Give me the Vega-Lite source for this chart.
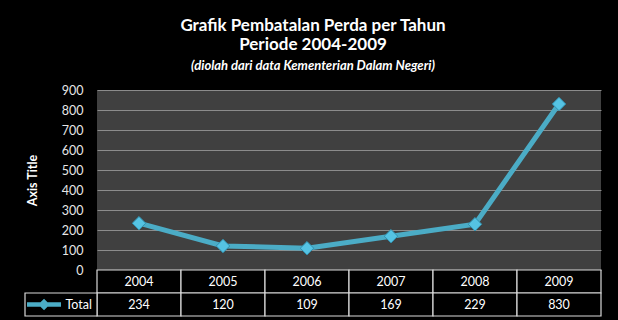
{
  "$schema": "https://vega.github.io/schema/vega-lite/v6.json",
  "background": "black",
  "padding": {"left": 24, "top": 17, "right": 17, "bottom": 4},
  "bounds": "flush",
  "spacing": 0,
  "config": {
    "font": "Lato",
    "view": {"stroke": null},
    "concat": {"spacing": 0}
  },
  "title": {
    "text": ["Grafik Pembatalan Perda per Tahun", "Periode 2004-2009"],
    "subtitle": "(diolah dari data Kementerian Dalam Negeri)",
    "color": "white",
    "font": "Lato",
    "fontSize": 17,
    "fontWeight": "bold",
    "lineHeight": 19,
    "subtitleColor": "white",
    "subtitleFont": "Lato",
    "subtitleFontSize": 13,
    "subtitleFontStyle": "italic",
    "subtitleFontWeight": "bold",
    "subtitlePadding": 6,
    "anchor": "middle",
    "frame": "bounds",
    "offset": 10
  },
  "datasets": {
    "perda": [
      {"year": "2004", "total": 234},
      {"year": "2005", "total": 120},
      {"year": "2006", "total": 109},
      {"year": "2007", "total": 169},
      {"year": "2008", "total": 229},
      {"year": "2009", "total": 830}
    ],
    "legendrow": [{"row": "Total", "label": "Total"}]
  },
  "vconcat": [
    {
      "width": 504,
      "height": 180,
      "data": {"name": "perda"},
      "view": {"fill": "#404040", "stroke": null},
      "encoding": {
        "x": {"field": "year", "type": "ordinal", "scale": {"type": "point", "padding": 0.5}, "axis": null},
        "y": {
          "field": "total",
          "type": "quantitative",
          "scale": {"domain": [0, 900]},
          "axis": {
            "title": "Axis Title",
            "values": [0, 100, 200, 300, 400, 500, 600, 700, 800, 900],
            "grid": true,
            "gridColor": "#8c8c8c",
            "gridWidth": 1,
            "domain": false,
            "ticks": false,
            "labelColor": "#e6e6e6",
            "labelFontSize": 12.5,
            "labelPadding": 14,
            "titleColor": "white",
            "titleFontSize": 12.5,
            "titleFontWeight": "bold",
            "titlePadding": 22,
            "minExtent": 36,
            "maxExtent": 36
          }
        }
      },
      "mark": {
        "type": "line",
        "color": "#4bacc6",
        "strokeWidth": 5,
        "point": {"shape": "diamond", "size": 180, "filled": true, "fill": "#55c3e3", "stroke": "#2f8fae", "strokeWidth": 1, "opacity": 1}
      }
    },
    {
      "width": 504,
      "height": 46,
      "resolve": {"scale": {"x": "independent"}},
      "layer": [
        {
          "data": {"name": "perda"},
          "mark": {"type": "rect", "fill": "black", "stroke": "#d9d9d9", "strokeWidth": 1.2},
          "encoding": {
            "x": {"field": "year", "type": "ordinal", "scale": {"type": "band", "paddingInner": 0, "paddingOuter": 0}, "axis": null},
            "y": {"datum": "Year", "type": "nominal", "scale": {"domain": ["Year", "Total"], "paddingInner": 0, "paddingOuter": 0}, "axis": null}
          }
        },
        {
          "data": {"name": "perda"},
          "mark": {"type": "rect", "fill": "black", "stroke": "#d9d9d9", "strokeWidth": 1.2},
          "encoding": {
            "x": {"field": "year", "type": "ordinal", "axis": null},
            "y": {"datum": "Total", "type": "nominal"}
          }
        },
        {
          "data": {"name": "perda"},
          "mark": {"type": "text", "color": "white", "fontSize": 12.5},
          "encoding": {
            "x": {"field": "year", "type": "ordinal", "axis": null},
            "y": {"datum": "Year", "type": "nominal"},
            "text": {"field": "year"}
          }
        },
        {
          "data": {"name": "perda"},
          "mark": {"type": "text", "color": "white", "fontSize": 12.5},
          "encoding": {
            "x": {"field": "year", "type": "ordinal", "axis": null},
            "y": {"datum": "Total", "type": "nominal"},
            "text": {"field": "total"}
          }
        },
        {
          "data": {"name": "legendrow"},
          "resolve": {"scale": {"x": "shared"}},
          "encoding": {
            "x": {"field": "label", "type": "nominal", "scale": {"type": "band", "domain": ["Total"], "range": [-72, 0], "paddingInner": 0, "paddingOuter": 0}, "axis": null},
            "y": {"field": "row", "type": "nominal"}
          },
          "layer": [
            {"mark": {"type": "rect", "fill": "black", "stroke": "#d9d9d9", "strokeWidth": 1.2}},
            {
              "mark": {"type": "text", "align": "right", "dx": -5, "color": "white", "fontSize": 12.5},
              "encoding": {"x": {"field": "label", "type": "nominal", "bandPosition": 1}, "text": {"field": "label"}}
            },
            {
              "mark": {"type": "point", "shape": "M-1,-0.13L1,-0.13L1,0.13L-1,0.13Z M0,-0.34L0.34,0L0,0.34L-0.34,0Z", "size": 1156, "filled": true, "color": "#4bacc6", "opacity": 1},
              "encoding": {"x": {"field": "label", "type": "nominal", "bandPosition": 0.264}}
            }
          ]
        }
      ]
    }
  ]
}
